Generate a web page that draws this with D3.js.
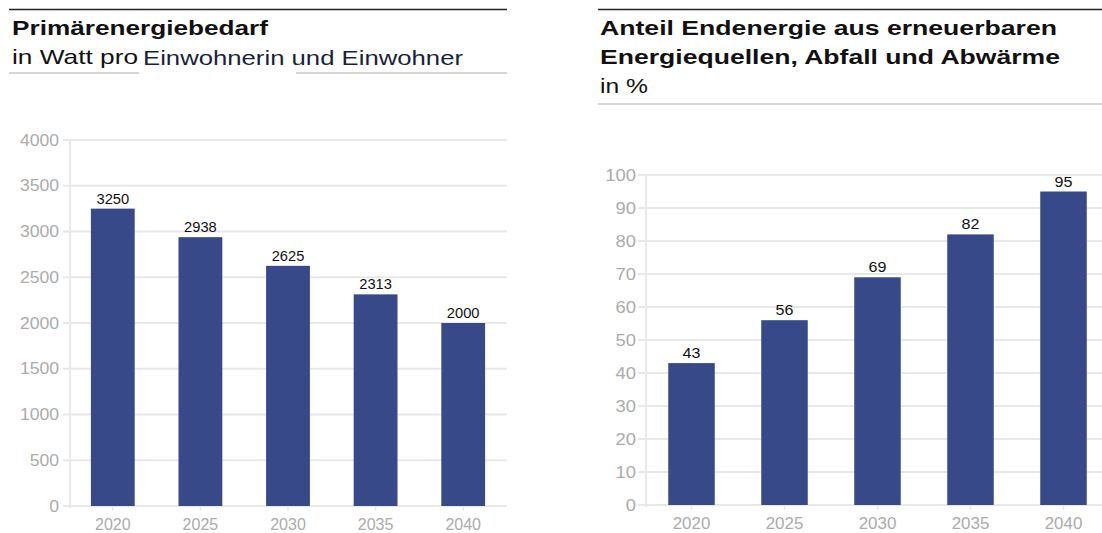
<!DOCTYPE html>
<html><head><meta charset="utf-8">
<script src="https://cdn.jsdelivr.net/npm/d3@7"></script>
<style>
html,body{margin:0;padding:0;background:#fff;}
svg{display:block;font-family:"Liberation Sans",Arial,Helvetica,sans-serif;}
</style></head>
<body>
<svg id="c" width="1102" height="533"></svg>
<script>
const years = ["2020","2025","2030","2035","2040"];
const primaryEnergy = [3250, 2938, 2625, 2313, 2000];
const renewableShare = [43, 56, 69, 82, 95];
const primaryTicks = [0,500,1000,1500,2000,2500,3000,3500,4000];
const shareTicks = [0,10,20,30,40,50,60,70,80,90,100];

const svg = d3.select("#c");
const barColor = "#374989";
const gridColor = "#e8e8e8";
const tickColor = "#ababab";

function panel(o){
  const x = d3.scaleBand().domain(years).range(o.xr).paddingInner(0.5).paddingOuter(0.25);
  const y = d3.scaleLinear().domain(o.dom).range(o.yr);
  const g = svg.append("g");
  g.append("g").selectAll("line").data(o.ticks).join("line")
    .attr("x1", o.gridX0).attr("x2", o.gridX1)
    .attr("y1", d=>y(d)).attr("y2", d=>y(d))
    .attr("stroke", gridColor).attr("stroke-width", 2);
  g.append("line").attr("x1", o.xr[0]+1).attr("x2", o.xr[0]+1)
    .attr("y1", y(o.dom[1])).attr("y2", y(0)+2)
    .attr("stroke", gridColor).attr("stroke-width", 2);
  const ya = d3.axisLeft(y).tickValues(o.ticks).tickFormat(d3.format("d")).tickSize(0).tickPadding(0);
  const yg = g.append("g").attr("transform", `translate(${o.labelX},0)`).call(ya);
  yg.select(".domain").remove();
  yg.selectAll("text").attr("fill", tickColor).style("font-size","16px").attr("font-family","inherit")
    .attr("transform", `scale(${o.tickStretch},1)`);
  const xa = d3.axisBottom(x).tickSize(4).tickPadding(8);
  const xg = g.append("g").attr("transform", `translate(0,${y(0)+1})`).call(xa);
  xg.select(".domain").remove();
  xg.selectAll("line").attr("stroke", gridColor).attr("stroke-width",1.5);
  xg.selectAll("text").attr("fill", tickColor).style("font-size","16px").attr("font-family","inherit")
    .attr("transform", `scale(${o.yearStretch},1)`);
  g.append("g").selectAll("rect").data(o.values).join("rect")
    .attr("x", (d,i)=>x(years[i])).attr("width", x.bandwidth())
    .attr("y", d=>y(d)).attr("height", d=>y(0)-y(d))
    .attr("fill", barColor);
  g.append("g").selectAll("text").data(o.values).join("text")
    .attr("transform", (d,i)=>`translate(${x(years[i])+x.bandwidth()/2},${y(d)-5}) scale(${o.valStretch},1)`)
    .attr("text-anchor","middle").attr("fill","#111").style("font-size","14px")
    .text(d=>d);
}

panel({xr:[69,507], dom:[0,4000], yr:[506,140], ticks:primaryTicks, values:primaryEnergy,
       gridX0:63, gridX1:507, labelX:59, tickStretch:1.1, yearStretch:1.0, valStretch:1.05});
panel({xr:[645,1110], dom:[0,100], yr:[505,175], ticks:shareTicks, values:renewableShare,
       gridX0:638, gridX1:1102, labelX:636, tickStretch:1.15, yearStretch:1.06, valStretch:1.15});

function header(x, y, txt, len, bold, size, color){
  svg.append("text").attr("x",x).attr("y",y)
    .attr("font-weight", bold ? "bold" : "normal")
    .style("font-size", size+"px").attr("fill", color || "#111")
    .attr("textLength", len).attr("lengthAdjust","spacingAndGlyphs")
    .text(txt);
}

svg.append("line").attr("x1",9).attr("x2",507).attr("y1",9.5).attr("y2",9.5).attr("stroke","#222").attr("stroke-width",1.6);
header(12, 35, "Primärenergiebedarf", 256, true, 21);
header(12, 64, "in Watt pro", 126, false, 21);
header(143, 65, "Einwohnerin und Einwohner", 320, false, 21, "#1a1f3a");
svg.append("line").attr("x1",9).attr("x2",139).attr("y1",73).attr("y2",73).attr("stroke","#d6d6d6").attr("stroke-width",2);
svg.append("line").attr("x1",296).attr("x2",507).attr("y1",73).attr("y2",73).attr("stroke","#d6d6d6").attr("stroke-width",2);

svg.append("line").attr("x1",598).attr("x2",1102).attr("y1",9.5).attr("y2",9.5).attr("stroke","#222").attr("stroke-width",1.6);
header(600, 35, "Anteil Endenergie aus erneuerbaren", 457, true, 21);
header(600, 64, "Energiequellen, Abfall und Abwärme", 460, true, 21);
header(600, 93, "in %", 48, false, 21);
svg.append("line").attr("x1",598).attr("x2",1102).attr("y1",104).attr("y2",104).attr("stroke","#d6d6d6").attr("stroke-width",2);
</script>
</body></html>
